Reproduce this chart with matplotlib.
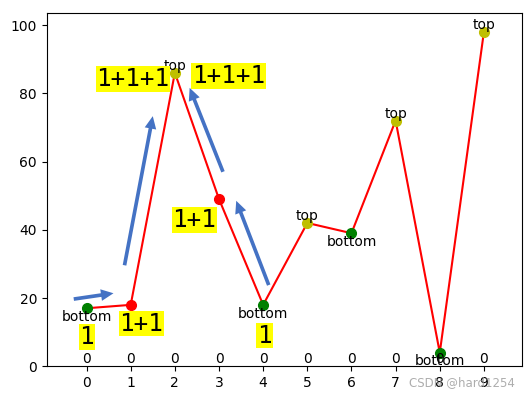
import matplotlib.pyplot as plt

x = list(range(10))
y = [17, 18, 86, 49, 18, 42, 39, 72, 4, 98]
zeros = [0] * 10

# yellow labels: text, x, y
labels = ['1', '1+1', '1+1+1', '1+1+1', '1+1', '1']
label_x = [0.0, 1.24, 1.05, 3.21, 2.44, 4.03]
label_y = [8.6, 12.5, 84.2, 85.1, 42.9, 9.0]

# blue arrows: tail -> head
arrow_tail = [(-0.29, 19.7), (0.86, 29.6), (3.09, 57.0), (4.126, 23.8)]
arrow_head = [(0.61, 21.4), (1.50, 73.3), (2.335, 81.6), (3.39, 48.5)]

fig = plt.figure(figsize=(5.32, 3.99), dpi=100)
ax = fig.add_axes([0.088, 0.082, 0.893, 0.886])

ax.plot(x, y, color='red', linewidth=1.5, zorder=2)

for i in range(len(x)):
    left = y[i - 1] if i > 0 else None
    right = y[i + 1] if i < len(y) - 1 else None
    is_top = (left is None or y[i] > left) and (right is None or y[i] > right)
    is_bottom = (left is None or y[i] < left) and (right is None or y[i] < right)
    if is_top:
        ax.plot(x[i], y[i], 'o', color='y', markersize=7, zorder=3)
        ax.text(x[i], y[i], 'top', ha='center', va='bottom', fontsize=10)
    elif is_bottom:
        ax.plot(x[i], y[i], 'o', color='green', markersize=7, zorder=3)
        ax.text(x[i], y[i] - 0.5, 'bottom', ha='center', va='top', fontsize=10)
    else:
        ax.plot(x[i], y[i], 'o', color='red', markersize=7, zorder=3)

for i in range(len(x)):
    ax.text(x[i], zeros[i], str(zeros[i]), ha='center', va='bottom', fontsize=10)

for t, lx, ly in zip(labels, label_x, label_y):
    ax.text(lx, ly, t, ha='center', va='center', fontsize=17.5,
            family='DejaVu Sans Mono',
            bbox=dict(facecolor='yellow', edgecolor='none', pad=0.5))

for tail, head in zip(arrow_tail, arrow_head):
    ax.annotate('', xy=head, xytext=tail,
                arrowprops=dict(arrowstyle='simple,head_length=0.75,head_width=0.7,tail_width=0.22',
                                color='#4472C4', lw=0, mutation_scale=12,
                                shrinkA=0, shrinkB=0))

ax.set_xlim(-0.9, 9.86)
ax.set_ylim(0, 103.6)
ax.set_xticks(x)

fig.text(0.968, 0.025, 'CSDN @hard1254', ha='right', va='bottom',
         fontsize=8.5, color='#999999', alpha=0.8)

fig.savefig('out.png', dpi=100)
